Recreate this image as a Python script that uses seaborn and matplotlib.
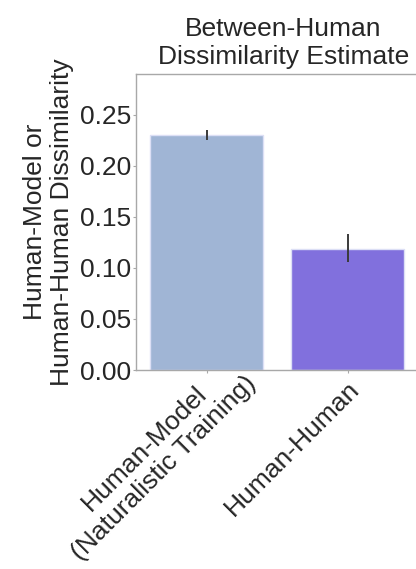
import matplotlib
matplotlib.use("Agg")
import matplotlib.pyplot as plt
import seaborn as sns
import pandas as pd

# Mean dissimilarity per comparison, with 95% CI bounds
categories = ["Human-Model\n(Naturalistic Training)", "Human-Human"]
means = [0.230, 0.119]
ci_low = [0.225, 0.106]
ci_high = [0.235, 0.133]
bar_colors = ["#a0b5d5", "#8170dd"]
yticks = [0.00, 0.05, 0.10, 0.15, 0.20, 0.25]
# label anchor offsets (points) relative to each category's tick
label_offsets = [(13, 13), (0, -5)]

sns.set_style("white")
plt.rcParams["font.family"] = ["Liberation Sans", "DejaVu Sans"]

fs = 19
fig = plt.figure(figsize=(4.16, 5.69), dpi=100)
ax = fig.add_axes([0.327, 0.3497, 0.678, 0.5203])

df = pd.DataFrame({"comparison": categories, "dissimilarity": means})
sns.barplot(data=df, x="comparison", y="dissimilarity", hue="comparison",
            palette=bar_colors, order=categories, hue_order=categories,
            width=0.8, errorbar=None, legend=False, ax=ax, saturation=1,
            edgecolor="#dcdff5", linewidth=1.0)

yerr = [[m - lo for m, lo in zip(means, ci_low)],
        [hi - m for m, hi in zip(means, ci_high)]]
ax.errorbar(range(len(categories)), means, yerr=yerr, fmt="none",
            ecolor="#3a3a3a", elinewidth=1.4, capsize=0, zorder=5)

ax.set_xlim(-0.5, 1.5)
ax.set_ylim(0, 0.29)
ax.set_yticks(yticks)
ax.set_yticklabels([f"{v:.2f}" for v in yticks], fontsize=fs)
ax.set_xticks(range(len(categories)))
ax.set_xticklabels([""] * len(categories))

# rotated category labels placed under their ticks
for i, (name, off) in enumerate(zip(categories, label_offsets)):
    ax.annotate(name, xy=(i, 0), xycoords=("data", "axes fraction"),
                xytext=off, textcoords="offset points", fontsize=fs,
                rotation=45, ha="right", va="top", rotation_mode="anchor",
                multialignment="center", annotation_clip=False)

ax.set_xlabel("")
ax.set_ylabel("Human-Model or\nHuman-Human Dissimilarity", fontsize=fs,
              labelpad=4)
ax.set_title("Between-Human\nDissimilarity Estimate", fontsize=fs, pad=7,
             x=0.523)

for side in ["left", "bottom", "top", "right"]:
    ax.spines[side].set_color("#a8a8a8")
    ax.spines[side].set_linewidth(1.0)
ax.tick_params(axis="both", which="both", length=2.5, width=0.8,
               color="#a8a8a8", pad=1, bottom=True, left=True)

fig.savefig("out.png", dpi=100)
